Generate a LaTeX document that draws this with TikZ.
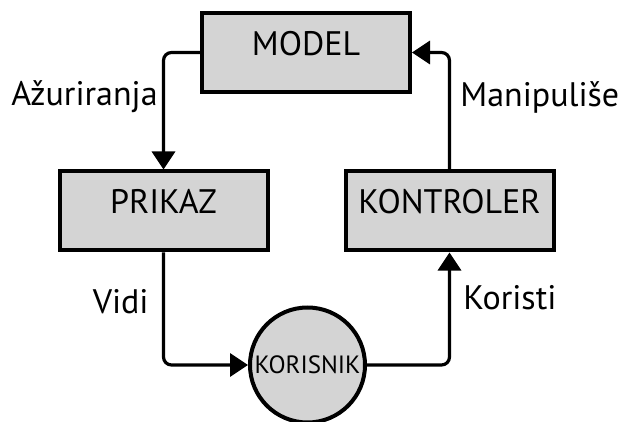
\documentclass[tikz,border=0pt]{standalone}
\usepackage{fontspec}
\setmainfont{PT Sans}
\usetikzlibrary{arrows.meta,positioning}
\definecolor{boxgray}{RGB}{212,212,212}
\tikzset{
    box/.style={draw, line width=2pt, fill=boxgray, minimum width=104pt, minimum height=39.5pt,
        inner sep=0pt, text height=12pt, text depth=9pt, font=\fontsize{17}{20}\selectfont},
    user/.style={draw, line width=2pt, fill=boxgray, circle, minimum size=57.5pt, inner sep=0pt,
        font=\fontsize{12.5}{15}\selectfont},
    conn/.style={line width=1.6pt, rounded corners=4pt, -{Triangle[length=9pt, width=11.5pt]}},
    lbl/.style={font=\fontsize{17}{20}\selectfont, inner sep=0pt}
}
\begin{document}
\begin{tikzpicture}[x=0.5pt, y=-0.5pt]
        \useasboundingbox (0,0) rectangle (626,422);
        \node[box] (model) at (306,52.5) {MODEL};
        \node[box] (prikaz) at (163.5,211) {PRIKAZ};
        \node[box] (kontroler) at (449.5,211) {KONTROLER};
        \node[user] (korisnik) at (307.5,365) {KORISNIK};
        % veze
        \draw[conn] (model.west) -| (prikaz.north);
        \draw[conn] (prikaz.south) |- (korisnik.west);
        \draw[conn] (korisnik.east) -| (kontroler.south);
        \draw[conn] (kontroler.north) |- (model.east);
        % oznake
        \node[lbl, anchor=east] (azur) at (158,97) {Ažuriranja};
        \node[lbl, anchor=west] (manip) at (460,97) {Manipuliše};
        \node[lbl, anchor=east] (vidi) at (149,302) {Vidi};
        \node[lbl, anchor=west] (kor) at (463,298) {Koristi};
\end{tikzpicture}
\end{document}
